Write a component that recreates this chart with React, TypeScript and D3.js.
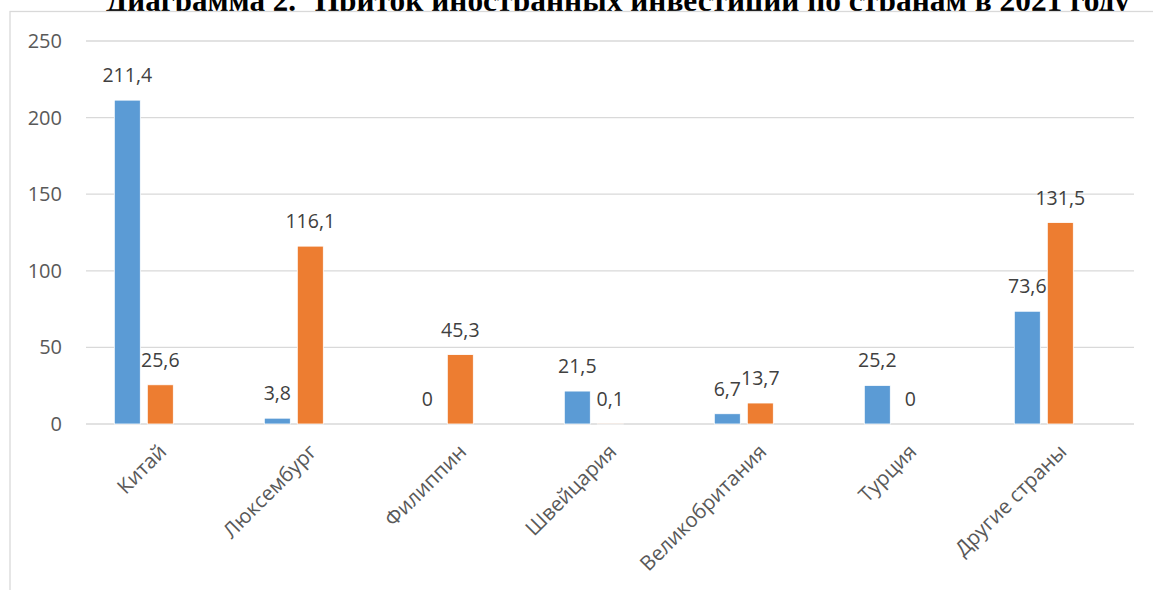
import React from "react";
import * as d3 from "d3";

const categories = ["Китай", "Люксембург", "Филиппин", "Швейцария", "Великобритания", "Турция", "Другие страны"];
const seriesA = [211.4, 3.8, 0, 21.5, 6.7, 25.2, 73.6];
const seriesB = [25.6, 116.1, 45.3, 0.1, 13.7, 0, 131.5];
const yTicks = [0, 50, 100, 150, 200, 250];
const titleLeft = "Диаграмма 2.";
const titleRight = "Приток иностранных инвестиций по странам в 2021 году";

const W = 1153;
const H = 590;
const gridLeft = 86;
const gridRight = 1134;
const fmt = (v: number) => String(v).replace(".", ",");

export default function App() {
  const x = d3.scaleBand<string>().domain(categories).range([68.8, 1118.8]).paddingInner(0).paddingOuter(0);
  const sub = d3.scaleBand<string>().domain(["a", "b"]).range([0, 59]).paddingInner(7 / 33);
  const y = d3.scaleLinear().domain([0, 250]).range([424, 41]);
  const series = [
    { key: "a", values: seriesA, color: "#5B9BD5" },
    { key: "b", values: seriesB, color: "#ED7D31" },
  ];
  const groupOffset = (x.bandwidth() - 59) / 2;
  const titleFont = "'Liberation Serif', 'Times New Roman', serif";
  return (
    <svg width={W} height={H} style={{ position: "absolute", left: 0, top: 0, background: "#fff" }}>
      <text x={106} y={11} textAnchor="start" fontFamily={titleFont} fontWeight="bold" fontSize={31} fill="#000">
        {titleLeft}
      </text>
      <text x={1130} y={11} textAnchor="end" fontFamily={titleFont} fontWeight="bold" fontSize={31.4} fill="#000">
        {titleRight}
      </text>
      <rect x={10} y={11.5} width={1300} height={700} fill="#fff" stroke="#D9D9D9" strokeWidth={1.3} />
      {yTicks.map((t) => (
        <g key={t}>
          <line x1={gridLeft} x2={gridRight} y1={y(t)} y2={y(t)} stroke="#D9D9D9" strokeWidth={1.3} />
          <text x={62} y={y(t)} dy="0.35em" textAnchor="end" fontFamily="'Open Sans', sans-serif" fontSize={20} fill="#595959">
            {t}
          </text>
        </g>
      ))}
      {categories.map((c, i) => (
        <g key={c} transform={`translate(${(x(c) ?? 0) + groupOffset},0)`}>
          {series.map((s) => {
            const v = s.values[i];
            const bx = sub(s.key) ?? 0;
            const bw = sub.bandwidth();
            return (
              <g key={s.key}>
                <rect x={bx} y={y(v)} width={bw} height={y(0) - y(v)} fill={s.color} stroke="#fff" strokeWidth={0.8} />
                <text x={bx + bw / 2} y={y(v) - 18} textAnchor="middle" fontFamily="'Open Sans', sans-serif" fontSize={19.5} fill="#404040">
                  {fmt(v)}
                </text>
              </g>
            );
          })}
        </g>
      ))}
      {categories.map((c) => {
        const cx = (x(c) ?? 0) + x.bandwidth() / 2;
        return (
          <text key={c} transform={`translate(${cx + 24},453) rotate(-45)`} textAnchor="end" fontFamily="'Open Sans', sans-serif" fontSize={20.5} fill="#595959">
            {c}
          </text>
        );
      })}
    </svg>
  );
}
